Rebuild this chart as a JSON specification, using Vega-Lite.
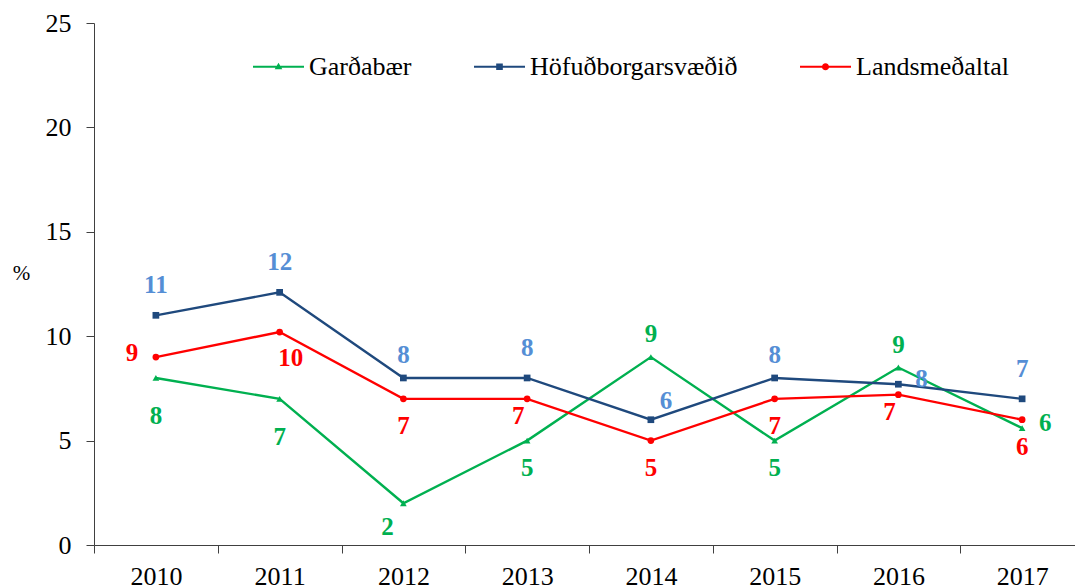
{
  "$schema": "https://vega.github.io/schema/vega-lite/v6.json",
  "width": 990,
  "height": 522,
  "autosize": "none",
  "padding": {"left": 94, "top": 23, "right": 0, "bottom": 43},
  "background": "white",
  "config": {"view": {"stroke": null}, "font": "Liberation Serif", "axis": {"labelFont": "Liberation Serif", "titleFont": "Liberation Serif"}, "legend": {"labelFont": "Liberation Serif"}},
  "data": {"values": [
    {"series": "Garðabær", "year": "2010", "value": 8.0},
    {"series": "Garðabær", "year": "2011", "value": 7.0},
    {"series": "Garðabær", "year": "2012", "value": 2.0},
    {"series": "Garðabær", "year": "2013", "value": 5.0},
    {"series": "Garðabær", "year": "2014", "value": 9.0},
    {"series": "Garðabær", "year": "2015", "value": 5.0},
    {"series": "Garðabær", "year": "2016", "value": 8.5},
    {"series": "Garðabær", "year": "2017", "value": 5.6},
    {"series": "Höfuðborgarsvæðið", "year": "2010", "value": 11.0},
    {"series": "Höfuðborgarsvæðið", "year": "2011", "value": 12.1},
    {"series": "Höfuðborgarsvæðið", "year": "2012", "value": 8.0},
    {"series": "Höfuðborgarsvæðið", "year": "2013", "value": 8.0},
    {"series": "Höfuðborgarsvæðið", "year": "2014", "value": 6.0},
    {"series": "Höfuðborgarsvæðið", "year": "2015", "value": 8.0},
    {"series": "Höfuðborgarsvæðið", "year": "2016", "value": 7.7},
    {"series": "Höfuðborgarsvæðið", "year": "2017", "value": 7.0},
    {"series": "Landsmeðaltal", "year": "2010", "value": 9.0},
    {"series": "Landsmeðaltal", "year": "2011", "value": 10.2},
    {"series": "Landsmeðaltal", "year": "2012", "value": 7.0},
    {"series": "Landsmeðaltal", "year": "2013", "value": 7.0},
    {"series": "Landsmeðaltal", "year": "2014", "value": 5.0},
    {"series": "Landsmeðaltal", "year": "2015", "value": 7.0},
    {"series": "Landsmeðaltal", "year": "2016", "value": 7.2},
    {"series": "Landsmeðaltal", "year": "2017", "value": 6.0}
  ]},
  "encoding": {
    "x": {
      "field": "year", "type": "ordinal", "bandPosition": 0.5,
      "scale": {"type": "band", "paddingInner": 0, "paddingOuter": 0},
      "axis": {
        "title": null, "labelAngle": 0, "tickBand": "extent", "tickSize": 8,
        "labelPadding": 10, "labelFont": "Liberation Serif", "labelFontSize": 26,
        "labelColor": "#000000", "domainColor": "#404040", "tickColor": "#404040", "grid": false
      }
    },
    "y": {
      "field": "value", "type": "quantitative",
      "scale": {"domain": [0, 25], "nice": false, "zero": true},
      "axis": {
        "title": "%", "titleAngle": 0, "titleFont": "Liberation Serif", "titleFontSize": 21,
        "titleFontWeight": "normal", "titleColor": "#000000", "titleX": -73, "titleY": 250,
        "titleAlign": "center", "titleBaseline": "middle",
        "values": [0, 5, 10, 15, 20, 25], "tickSize": 8, "labelPadding": 15,
        "labelFont": "Liberation Serif", "labelFontSize": 26, "labelColor": "#000000",
        "domainColor": "#404040", "tickColor": "#404040", "grid": false
      }
    }
  },
  "layer": [
    {
      "mark": {"type": "line", "strokeWidth": 2.4},
      "encoding": {
        "color": {
          "field": "series", "type": "nominal",
          "scale": {"domain": ["Garðabær", "Höfuðborgarsvæðið", "Landsmeðaltal"], "range": ["#00B050", "#1F497D", "#FF0000"]},
          "legend": {
            "orient": "none", "legendX": 159, "legendY": 18, "direction": "horizontal", "title": null,
            "padding": 0, "symbolSize": 2601, "symbolStrokeWidth": 0, "labelOffset": 5, "columnPadding": 62,
            "labelFont": "Liberation Serif", "labelFontSize": 26, "labelColor": "#000000", "labelLimit": 0,
            "encode": {
              "symbols": {"update": {
                "shape": {"signal": "datum.value === 'Garðabær' ? 'M-1,-0.043L1,-0.043L1,0.043L-1,0.043Z M0,-0.16L0.15,0.1L-0.15,0.1Z' : datum.value === 'Höfuðborgarsvæðið' ? 'M-1,-0.043L1,-0.043L1,0.043L-1,0.043Z M-0.13,-0.13L0.13,-0.13L0.13,0.13L-0.13,0.13Z' : 'M-1,-0.043L1,-0.043L1,0.043L-1,0.043Z M0.14,0A0.14,0.14 0 1,1 -0.14,0A0.14,0.14 0 1,1 0.14,0Z'"},
                "fill": {"scale": "color", "field": "value"},
                "fillOpacity": {"value": 1},
                "stroke": {"value": "transparent"}
              }}
            }
          }
        }
      }
    },
    {
      "transform": [{"filter": "datum.series === 'Garðabær'"}],
      "mark": {"type": "point", "filled": true, "size": 45, "opacity": 1, "shape": "triangle-up"},
      "encoding": {"color": {"field": "series", "type": "nominal"}}
    },
    {
      "transform": [{"filter": "datum.series === 'Höfuðborgarsvæðið'"}],
      "mark": {"type": "point", "filled": true, "size": 45, "opacity": 1, "shape": "square"},
      "encoding": {"color": {"field": "series", "type": "nominal"}}
    },
    {
      "transform": [{"filter": "datum.series === 'Landsmeðaltal'"}],
      "mark": {"type": "point", "filled": true, "size": 45, "opacity": 1, "shape": "circle"},
      "encoding": {"color": {"field": "series", "type": "nominal"}}
    },
    {
      "transform": [{"filter": "indexof(['H2010','H2011','H2013','H2017'], slice(datum.series,0,1)+datum.year) >= 0"}],
      "mark": {"type": "text", "fontWeight": "bold", "fontSize": 25, "font": "Liberation Serif", "baseline": "middle", "dy": -30},
      "encoding": {"text": {"field": "value", "format": ".0f"}, "fill": {"field": "series", "type": "nominal", "legend": null, "scale": {"domain": ["Garðabær", "Höfuðborgarsvæðið", "Landsmeðaltal"], "range": ["#00B050", "#558ED5", "#FF0000"]}}}
    },
    {
      "transform": [{"filter": "indexof(['H2012','H2015','G2014','G2016'], slice(datum.series,0,1)+datum.year) >= 0"}],
      "mark": {"type": "text", "fontWeight": "bold", "fontSize": 25, "font": "Liberation Serif", "baseline": "middle", "dy": -23},
      "encoding": {"text": {"field": "value", "format": ".0f"}, "fill": {"field": "series", "type": "nominal", "legend": null}}
    },
    {
      "transform": [{"filter": "indexof(['H2014'], slice(datum.series,0,1)+datum.year) >= 0"}],
      "mark": {"type": "text", "fontWeight": "bold", "fontSize": 25, "font": "Liberation Serif", "baseline": "middle", "dx": 15, "dy": -19},
      "encoding": {"text": {"field": "value", "format": ".0f"}, "fill": {"field": "series", "type": "nominal", "legend": null}}
    },
    {
      "transform": [{"filter": "indexof(['H2016','G2017'], slice(datum.series,0,1)+datum.year) >= 0"}],
      "mark": {"type": "text", "fontWeight": "bold", "fontSize": 25, "font": "Liberation Serif", "baseline": "middle", "dx": 23, "dy": -5},
      "encoding": {"text": {"field": "value", "format": ".0f"}, "fill": {"field": "series", "type": "nominal", "legend": null}}
    },
    {
      "transform": [{"filter": "indexof(['L2010'], slice(datum.series,0,1)+datum.year) >= 0"}],
      "mark": {"type": "text", "fontWeight": "bold", "fontSize": 25, "font": "Liberation Serif", "baseline": "middle", "dx": -24, "dy": -4},
      "encoding": {"text": {"field": "value", "format": ".0f"}, "fill": {"field": "series", "type": "nominal", "legend": null}}
    },
    {
      "transform": [{"filter": "indexof(['L2012','L2014','L2015','L2017','G2013','G2015'], slice(datum.series,0,1)+datum.year) >= 0"}],
      "mark": {"type": "text", "fontWeight": "bold", "fontSize": 25, "font": "Liberation Serif", "baseline": "middle", "dy": 27},
      "encoding": {"text": {"field": "value", "format": ".0f"}, "fill": {"field": "series", "type": "nominal", "legend": null}}
    },
    {
      "transform": [{"filter": "indexof(['L2011'], slice(datum.series,0,1)+datum.year) >= 0"}],
      "mark": {"type": "text", "fontWeight": "bold", "fontSize": 25, "font": "Liberation Serif", "baseline": "middle", "dx": 11, "dy": 26},
      "encoding": {"text": {"field": "value", "format": ".0f"}, "fill": {"field": "series", "type": "nominal", "legend": null}}
    },
    {
      "transform": [{"filter": "indexof(['L2013','L2016'], slice(datum.series,0,1)+datum.year) >= 0"}],
      "mark": {"type": "text", "fontWeight": "bold", "fontSize": 25, "font": "Liberation Serif", "baseline": "middle", "dx": -9, "dy": 17},
      "encoding": {"text": {"field": "value", "format": ".0f"}, "fill": {"field": "series", "type": "nominal", "legend": null}}
    },
    {
      "transform": [{"filter": "indexof(['G2010','G2011'], slice(datum.series,0,1)+datum.year) >= 0"}],
      "mark": {"type": "text", "fontWeight": "bold", "fontSize": 25, "font": "Liberation Serif", "baseline": "middle", "dy": 38},
      "encoding": {"text": {"field": "value", "format": ".0f"}, "fill": {"field": "series", "type": "nominal", "legend": null}}
    },
    {
      "transform": [{"filter": "indexof(['G2012'], slice(datum.series,0,1)+datum.year) >= 0"}],
      "mark": {"type": "text", "fontWeight": "bold", "fontSize": 25, "font": "Liberation Serif", "baseline": "middle", "dx": -16, "dy": 24},
      "encoding": {"text": {"field": "value", "format": ".0f"}, "fill": {"field": "series", "type": "nominal", "legend": null}}
    }
  ]
}
